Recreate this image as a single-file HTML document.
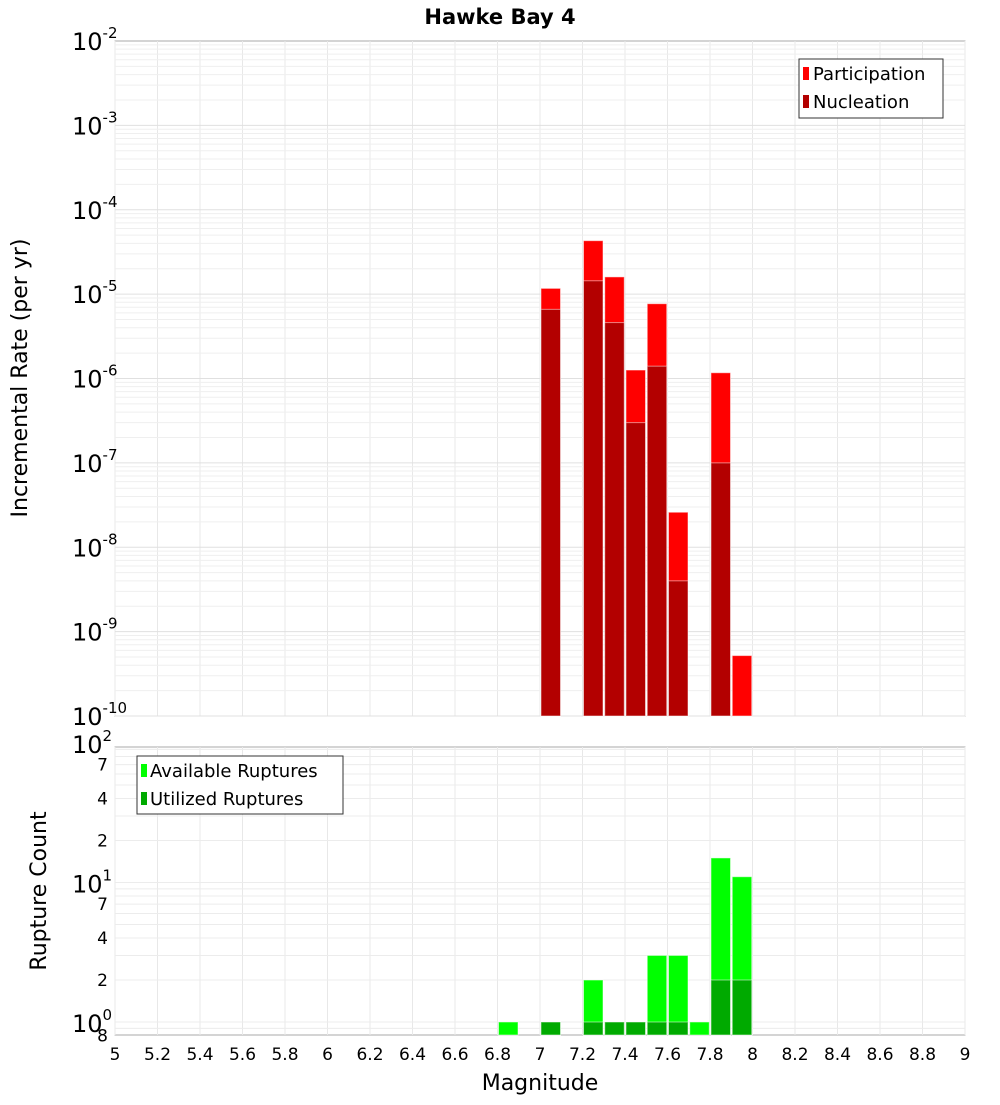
<!DOCTYPE html>
<html><head><meta charset="utf-8"><style>
body{margin:0;background:#fff;font-family:"Liberation Sans","DejaVu Sans",sans-serif;}
svg text{font-family:"DejaVu Sans","Liberation Sans",sans-serif;}
</style></head><body>
<svg id="chart" width="1000" height="1100" xmlns="http://www.w3.org/2000/svg">
<text x="500" y="24" text-anchor="middle" font-size="21" font-weight="bold">Hawke Bay 4</text>
<rect x="115" y="41" width="850" height="675" fill="#fff" stroke="#aaa"/>
<rect x="115" y="747" width="850" height="288" fill="#fff" stroke="#aaa"/>
<g id="grid"></g><g id="bars"></g><g id="axes"></g>
<text transform="translate(27,378) rotate(-90)" text-anchor="middle" font-size="22">Incremental Rate (per yr)</text>
<text transform="translate(46,891) rotate(-90)" text-anchor="middle" font-size="22">Rupture Count</text>
<text x="540" y="1090" text-anchor="middle" font-size="22">Magnitude</text>
<g>
<rect x="799" y="59" width="144" height="59" fill="#fff" stroke="#333"/>
<rect x="803" y="67" width="6" height="13" fill="#ff0000"/><text x="813" y="80" font-size="18">Participation</text>
<rect x="803" y="95" width="6" height="13" fill="#b30000"/><text x="813" y="108" font-size="18">Nucleation</text>
</g>
<g>
<rect x="137" y="756" width="206" height="58" fill="#fff" stroke="#333"/>
<rect x="141" y="764" width="6" height="13" fill="#00ff00"/><text x="150" y="777" font-size="18">Available Ruptures</text>
<rect x="141" y="792" width="6" height="13" fill="#00aa00"/><text x="150" y="805" font-size="18">Utilized Ruptures</text>
</g>
</svg>
<script>
const mags=[6.85,7.05,7.25,7.35,7.45,7.55,7.65,7.75,7.85,7.95];
const participation=[0,1.17e-5,4.3e-5,1.6e-5,1.26e-6,7.7e-6,2.6e-8,0,1.17e-6,5.2e-10];
const nucleation=[0,6.6e-6,1.44e-5,4.6e-6,3.0e-7,1.4e-6,4.0e-9,0,1.0e-7,0];
const available=[1,1,2,1,1,3,3,1,15,11];
const utilized=[0,1,1,1,1,1,1,0,2,2];
const xTicks=["5","5.2","5.4","5.6","5.8","6","6.2","6.4","6.6","6.8","7","7.2","7.4","7.6","7.8","8","8.2","8.4","8.6","8.8","9"];
const topExps=[-2,-3,-4,-5,-6,-7,-8,-9,-10];
const NS="http://www.w3.org/2000/svg";
const X=m=>115+(m-5)*212.5;
const YT=v=>41+(-2-Math.log10(v))*84.375;
const YB=v=>1022-Math.log10(v)*139.5;
function el(t,a,p){const e=document.createElementNS(NS,t);for(const k in a)e.setAttribute(k,a[k]);document.getElementById(p).appendChild(e);return e;}
// grid
for(let i=0;i<xTicks.length;i++){const x=X(+xTicks[i]);
 const g1=el('line',{x1:x,x2:x,y1:41,y2:716,stroke:'#e8e8e8'},'grid');
 
 const g2=el('line',{x1:x,x2:x,y1:747,y2:1035,stroke:'#e8e8e8'},'grid');
 
 const t=el('text',{x:x,y:1060,'text-anchor':'middle','font-size':17},'axes');t.textContent=xTicks[i];
 
}
for(let e=-10;e<-2;e++)for(let k=1;k<10;k++){const y=YT(k*Math.pow(10,e));if(y<41||y>716)continue;
 const g=el('line',{x1:115,x2:965,y1:y,y2:y,stroke:k==1?'#e0e0e0':'#efefef'},'grid');
 }
for(let e=-1;e<2;e++)for(let k=1;k<10;k++){const y=YB(k*Math.pow(10,e));if(y<747||y>1035)continue;
 const g=el('line',{x1:115,x2:965,y1:y,y2:y,stroke:'#ececec'},'grid');
 }
// top y labels
topExps.forEach(e=>{const y=YT(Math.pow(10,e));
 const t=el('text',{x:72,y:y+9,'font-size':24},'axes');t.innerHTML='10<tspan dy="-12" font-size="15">'+e+'</tspan>';
 });
// bottom y labels
[[100,'10','2'],[10,'10','1'],[1,'10','0']].forEach(a=>{const y=YB(a[0]);
 const t=el('text',{x:72,y:y+10,'font-size':24},'axes');t.innerHTML=a[1]+'<tspan dy="-12" font-size="15">'+a[2]+'</tspan>';
 });
[70,40,20,7,4,2,0.8].forEach(v=>{const y=YB(v);const t=el('text',{x:108,y:y+6,'text-anchor':'end','font-size':17},'axes');
 t.textContent=String(v<1?8:(v>=10?v/10:v));
 });
// bars
function bar(m,v,Y,base,fill,name){if(!v)return;const x=X(m-0.05)+1,y=Y(v);
 const r=el('rect',{x:x,y:y,width:19.5,height:base-y,fill:fill,stroke:'#ffffff','stroke-opacity':0.5,'stroke-width':1},'bars');
 }
mags.forEach((m,i)=>{bar(m,participation[i],YT,716,'#ff0000','participation-bar');bar(m,nucleation[i],YT,716,'#b30000','nucleation-bar');
 bar(m,available[i],YB,1035,'#00ff00','available-ruptures-bar');bar(m,utilized[i],YB,1035,'#00aa00','utilized-ruptures-bar');});
</script>
</body></html>
